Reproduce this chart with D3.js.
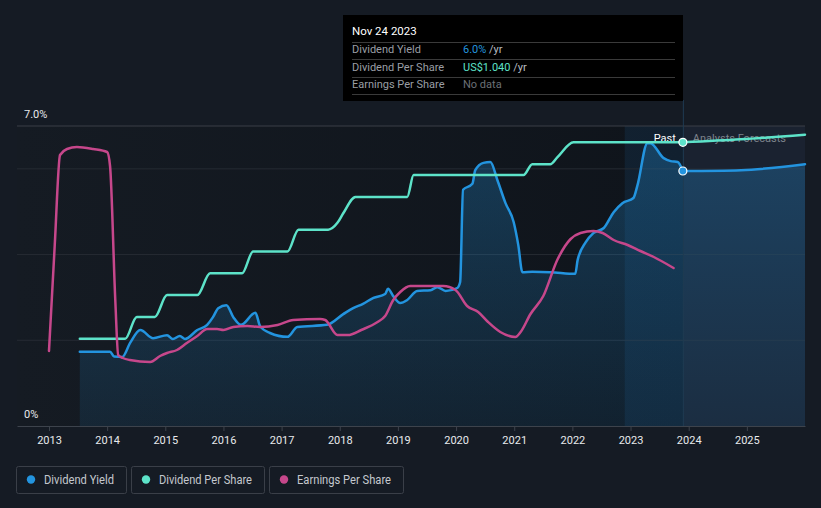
<!DOCTYPE html>
<html>
<head>
<meta charset="utf-8">
<script src="https://cdn.jsdelivr.net/npm/d3@7"></script>
<style>
  body { margin: 0; background: #151b24; font-family: Roboto, "Noto Sans", sans-serif; }
  svg text { font-family: Roboto, "Noto Sans", sans-serif; }
</style>
</head>
<body>
<div id="chart"></div>
<script>
// year ticks on the x axis
const yearTicks = [2013, 2014, 2015, 2016, 2017, 2018, 2019, 2020, 2021, 2022, 2023, 2024, 2025];

// dividend yield (%), [decimal year, value]
const dividendYield = [
  [2013.53, 1.73], [2014.05, 1.73], [2014.12, 1.62], [2014.26, 1.61], [2014.40, 1.95],
  [2014.57, 2.24], [2014.79, 2.05], [2015.03, 2.12], [2015.13, 2.03], [2015.25, 2.10],
  [2015.34, 2.03], [2015.55, 2.24], [2015.72, 2.36], [2015.82, 2.54], [2015.91, 2.75],
  [2016.05, 2.82], [2016.17, 2.54], [2016.30, 2.36], [2016.55, 2.64], [2016.63, 2.33],
  [2016.80, 2.17], [2017.10, 2.08], [2017.27, 2.31], [2017.78, 2.36], [2018.06, 2.61],
  [2018.23, 2.75], [2018.40, 2.85], [2018.58, 2.99], [2018.78, 3.08], [2018.83, 3.20],
  [2018.92, 3.03], [2019.04, 2.87], [2019.16, 2.94], [2019.33, 3.15], [2019.56, 3.17],
  [2019.68, 3.24], [2019.82, 3.15], [2020.02, 3.22], [2020.07, 3.36], [2020.12, 5.51],
  [2020.28, 5.65], [2020.33, 5.97], [2020.47, 6.14], [2020.59, 6.16], [2020.71, 5.74],
  [2020.85, 5.20], [2020.99, 4.76], [2021.07, 4.22], [2021.14, 3.59], [2021.31, 3.60],
  [2021.62, 3.59], [2022.05, 3.55], [2022.09, 3.87], [2022.23, 4.29], [2022.36, 4.50],
  [2022.54, 4.62], [2022.71, 4.99], [2022.86, 5.20], [2023.05, 5.32], [2023.12, 5.62],
  [2023.29, 6.60], [2023.34, 6.60], [2023.57, 6.25], [2023.69, 6.18], [2023.81, 6.16],
  [2023.90, 5.95]
];
const dividendYieldForecast = [[2023.90, 5.95], [2024.90, 5.97], [2026.0, 6.11]];

// dividend per share (US$)
const dividendPerShare = [
  [2013.53, 0.32], [2014.31, 0.32], [2014.51, 0.40], [2014.82, 0.40], [2015.03, 0.48],
  [2015.55, 0.48], [2015.77, 0.56], [2016.32, 0.56], [2016.51, 0.64], [2017.10, 0.64],
  [2017.29, 0.72], [2017.80, 0.72], [2017.96, 0.745], [2018.06, 0.78], [2018.27, 0.84],
  [2019.16, 0.84], [2019.27, 0.92], [2021.16, 0.92], [2021.31, 0.96], [2021.62, 0.96],
  [2021.74, 0.985], [2022.02, 1.04], [2023.90, 1.04]
];
const dividendPerShareForecast = [[2023.90, 1.04], [2024.90, 1.051], [2026.0, 1.068]];

// earnings per share (US$)
const earningsPerShare = [
  [2013.00, 0.375], [2013.10, 0.91], [2013.19, 1.355], [2013.31, 1.385], [2013.48, 1.395],
  [2013.76, 1.385], [2014.00, 1.37], [2014.05, 1.30], [2014.14, 0.63], [2014.19, 0.355],
  [2014.27, 0.34], [2014.39, 0.33], [2014.74, 0.32], [2014.91, 0.35], [2015.03, 0.365],
  [2015.20, 0.38], [2015.37, 0.415], [2015.55, 0.45], [2015.72, 0.485], [2015.89, 0.485],
  [2016.00, 0.48], [2016.17, 0.495], [2016.41, 0.50], [2016.63, 0.495], [2016.93, 0.505],
  [2017.20, 0.53], [2017.66, 0.535], [2017.75, 0.53], [2017.96, 0.455], [2018.14, 0.455],
  [2018.37, 0.48], [2018.65, 0.52], [2018.78, 0.55], [2018.92, 0.63], [2019.04, 0.67],
  [2019.21, 0.70], [2019.78, 0.70], [2019.99, 0.68], [2020.19, 0.60], [2020.38, 0.57],
  [2020.55, 0.52], [2020.76, 0.47], [2021.02, 0.445], [2021.11, 0.47], [2021.28, 0.56],
  [2021.50, 0.65], [2021.74, 0.83], [2021.97, 0.935], [2022.14, 0.965], [2022.36, 0.975],
  [2022.52, 0.965], [2022.71, 0.93], [2022.95, 0.905], [2023.17, 0.875], [2023.40, 0.845],
  [2023.74, 0.79]
];

const yieldGrid = [2, 4, 6, 7];
const nowYear = 2023.90;
const legendItems = [
  { name: "Dividend Yield", color: "#2394df" },
  { name: "Dividend Per Share", color: "#5de3c9" },
  { name: "Earnings Per Share", color: "#c6478b" }
];

const width = 821, height = 508;
const plotLeft = 17, plotRight = 805, plotTop = 126, plotBottom = 426;

const svg = d3.select("#chart")
  .append("svg")
  .attr("width", width)
  .attr("height", height);

const x = d3.scaleLinear().domain([2012.45, 2026.0]).range([plotLeft, plotRight]);
const yYield = d3.scaleLinear().domain([0, 7]).range([plotBottom, plotTop]);
const yDps = d3.scaleLinear().domain([0, 1.1]).range([plotBottom, plotTop]);
const yEps = d3.scaleLinear().domain([0, 1.5]).range([plotBottom, plotTop]);

const defs = svg.append("defs");
const bgGrad = defs.append("linearGradient").attr("id", "plotbg")
  .attr("x1", "0%").attr("x2", "100%").attr("y1", "0%").attr("y2", "0%");
bgGrad.append("stop").attr("offset", "0%").attr("stop-color", "#151b23");
bgGrad.append("stop").attr("offset", "100%").attr("stop-color", "#0f141b");

const areaGrad = defs.append("linearGradient").attr("id", "areafill")
  .attr("gradientUnits", "userSpaceOnUse")
  .attr("x1", 0).attr("x2", 0).attr("y1", plotTop).attr("y2", plotBottom);
areaGrad.append("stop").attr("offset", "0%").attr("stop-color", "#2394df").attr("stop-opacity", 0.3);
areaGrad.append("stop").attr("offset", "100%").attr("stop-color", "#2394df").attr("stop-opacity", 0.1);

// plot backgrounds: past, forecast, last-year band
svg.append("rect")
  .attr("x", plotLeft).attr("y", plotTop)
  .attr("width", x(nowYear) - plotLeft).attr("height", plotBottom - plotTop)
  .attr("fill", "url(#plotbg)");
svg.append("rect")
  .attr("x", x(nowYear)).attr("y", plotTop)
  .attr("width", plotRight - x(nowYear)).attr("height", plotBottom - plotTop)
  .attr("fill", "#1a2230");
svg.append("rect")
  .attr("x", x(nowYear - 1)).attr("y", plotTop)
  .attr("width", x(nowYear) - x(nowYear - 1)).attr("height", plotBottom - plotTop)
  .attr("fill", "#2394df").attr("fill-opacity", 0.1);

// gridlines
svg.selectAll(".grid")
  .data(yieldGrid)
  .join("line")
  .attr("class", "grid")
  .attr("x1", plotLeft).attr("x2", plotRight)
  .attr("y1", d => yYield(d)).attr("y2", d => yYield(d))
  .attr("stroke", d => d === 7 ? "#3a3f47" : "#262b33")
  .attr("stroke-width", 1);

// x axis
const xAxis = svg.append("g")
  .attr("transform", `translate(0, ${plotBottom})`)
  .call(d3.axisBottom(x).tickValues(yearTicks).tickFormat(d3.format("d")).tickSize(5).tickSizeOuter(0));
xAxis.select(".domain").attr("stroke", "#3d434c");
xAxis.selectAll(".tick line").attr("stroke", "#3d434c");
xAxis.selectAll(".tick text")
  .attr("fill", "#e8eaec")
  .attr("font-size", 11)
  .attr("dy", "0.9em");

// y labels
svg.append("text").attr("x", 24).attr("y", yYield(7) - 8)
  .attr("fill", "#e8eaec").attr("font-size", 11).text("7.0%");
svg.append("text").attr("x", 24).attr("y", yYield(0) - 8)
  .attr("fill", "#e8eaec").attr("font-size", 11).text("0%");

// area under dividend yield
const allYield = dividendYield.concat(dividendYieldForecast.slice(1));
svg.append("path")
  .datum(allYield)
  .attr("fill", "url(#areafill)")
  .attr("d", d3.area()
    .curve(d3.curveMonotoneX)
    .x(d => x(d[0]))
    .y0(plotBottom)
    .y1(d => yYield(d[1])));

// vertical now line
svg.append("line")
  .attr("x1", x(nowYear) + 0.5).attr("x2", x(nowYear) + 0.5)
  .attr("y1", 100).attr("y2", plotBottom)
  .attr("stroke", "#1f3a52").attr("stroke-width", 1);

// past / forecast labels
svg.append("text")
  .attr("x", x(nowYear) - 7).attr("y", 142)
  .attr("text-anchor", "end")
  .attr("fill", "#ffffff").attr("font-size", 11)
  .text("Past");
svg.append("text")
  .attr("x", x(nowYear) + 10).attr("y", 142)
  .attr("fill", "#7d838b").attr("font-size", 11)
  .text("Analysts Forecasts");

const lineOf = (y) => d3.line().curve(d3.curveMonotoneX).x(d => x(d[0])).y(d => y(d[1]));

const series = [
  { data: dividendYield, y: yYield, color: "#2394df" },
  { data: dividendYieldForecast, y: yYield, color: "#2394df" },
  { data: dividendPerShare, y: yDps, color: "#5de3c9" },
  { data: dividendPerShareForecast, y: yDps, color: "#5de3c9" },
  { data: earningsPerShare, y: yEps, color: "#c6478b" }
];
series.forEach(s => {
  svg.append("path")
    .datum(s.data)
    .attr("fill", "none")
    .attr("stroke", s.color)
    .attr("stroke-width", 2.5)
    .attr("stroke-linejoin", "round")
    .attr("stroke-linecap", "round")
    .attr("d", lineOf(s.y));
});

// markers at the current date
svg.append("circle")
  .attr("cx", x(nowYear)).attr("cy", yDps(1.04)).attr("r", 4)
  .attr("fill", "#5de3c9").attr("stroke", "#ffffff").attr("stroke-width", 1.2);
svg.append("circle")
  .attr("cx", x(nowYear)).attr("cy", yYield(5.95)).attr("r", 4)
  .attr("fill", "#2394df").attr("stroke", "#ffffff").attr("stroke-width", 1.2);

// tooltip
const tip = svg.append("g").attr("transform", "translate(343, 15)");
tip.append("rect").attr("width", 340).attr("height", 86).attr("fill", "#000000");
tip.append("text").attr("x", 9).attr("y", 20)
  .attr("fill", "#ffffff").attr("font-size", 11.5).text("Nov 24 2023");
const tipRows = [
  { label: "Dividend Yield", value: "6.0%", color: "#2394df", unit: " /yr" },
  { label: "Dividend Per Share", value: "US$1.040", color: "#5de3c9", unit: " /yr" },
  { label: "Earnings Per Share", value: "No data", color: "#6b7077", unit: "" }
];
[27, 44, 62, 79].forEach(yy => {
  tip.append("line").attr("x1", 9).attr("x2", 332)
    .attr("y1", yy + 0.5).attr("y2", yy + 0.5)
    .attr("stroke", "#3a3a3a").attr("stroke-width", 1);
});
tipRows.forEach((r, i) => {
  const yy = 38 + i * 17.5;
  tip.append("text").attr("x", 9).attr("y", yy)
    .attr("fill", "#9a9ea4").attr("font-size", 11).text(r.label);
  const t = tip.append("text").attr("x", 120).attr("y", yy).attr("font-size", 11);
  t.append("tspan").attr("fill", r.color).text(r.value);
  t.append("tspan").attr("fill", "#b8bcc2").text(r.unit);
});

// legend (condensed text to match the reference widths)
const legendTextWidths = [70, 93, 94];
let lx = 16;
legendItems.forEach((item, i) => {
  const g = svg.append("g").attr("transform", `translate(${lx}, 466)`);
  const tw = legendTextWidths[i];
  const w = tw + 40;
  g.append("rect")
    .attr("x", 0.5).attr("y", 0.5)
    .attr("width", w).attr("height", 27)
    .attr("rx", 2)
    .attr("fill", "none").attr("stroke", "#3a3f48");
  g.append("circle").attr("cx", 15).attr("cy", 13.5).attr("r", 4.2).attr("fill", item.color);
  g.append("text").attr("x", 28).attr("y", 18)
    .attr("fill", "#c4c8ce").attr("font-size", 12.5)
    .attr("textLength", tw).attr("lengthAdjust", "spacingAndGlyphs")
    .text(item.name);
  lx += w + 5;
});
</script>
</body>
</html>
